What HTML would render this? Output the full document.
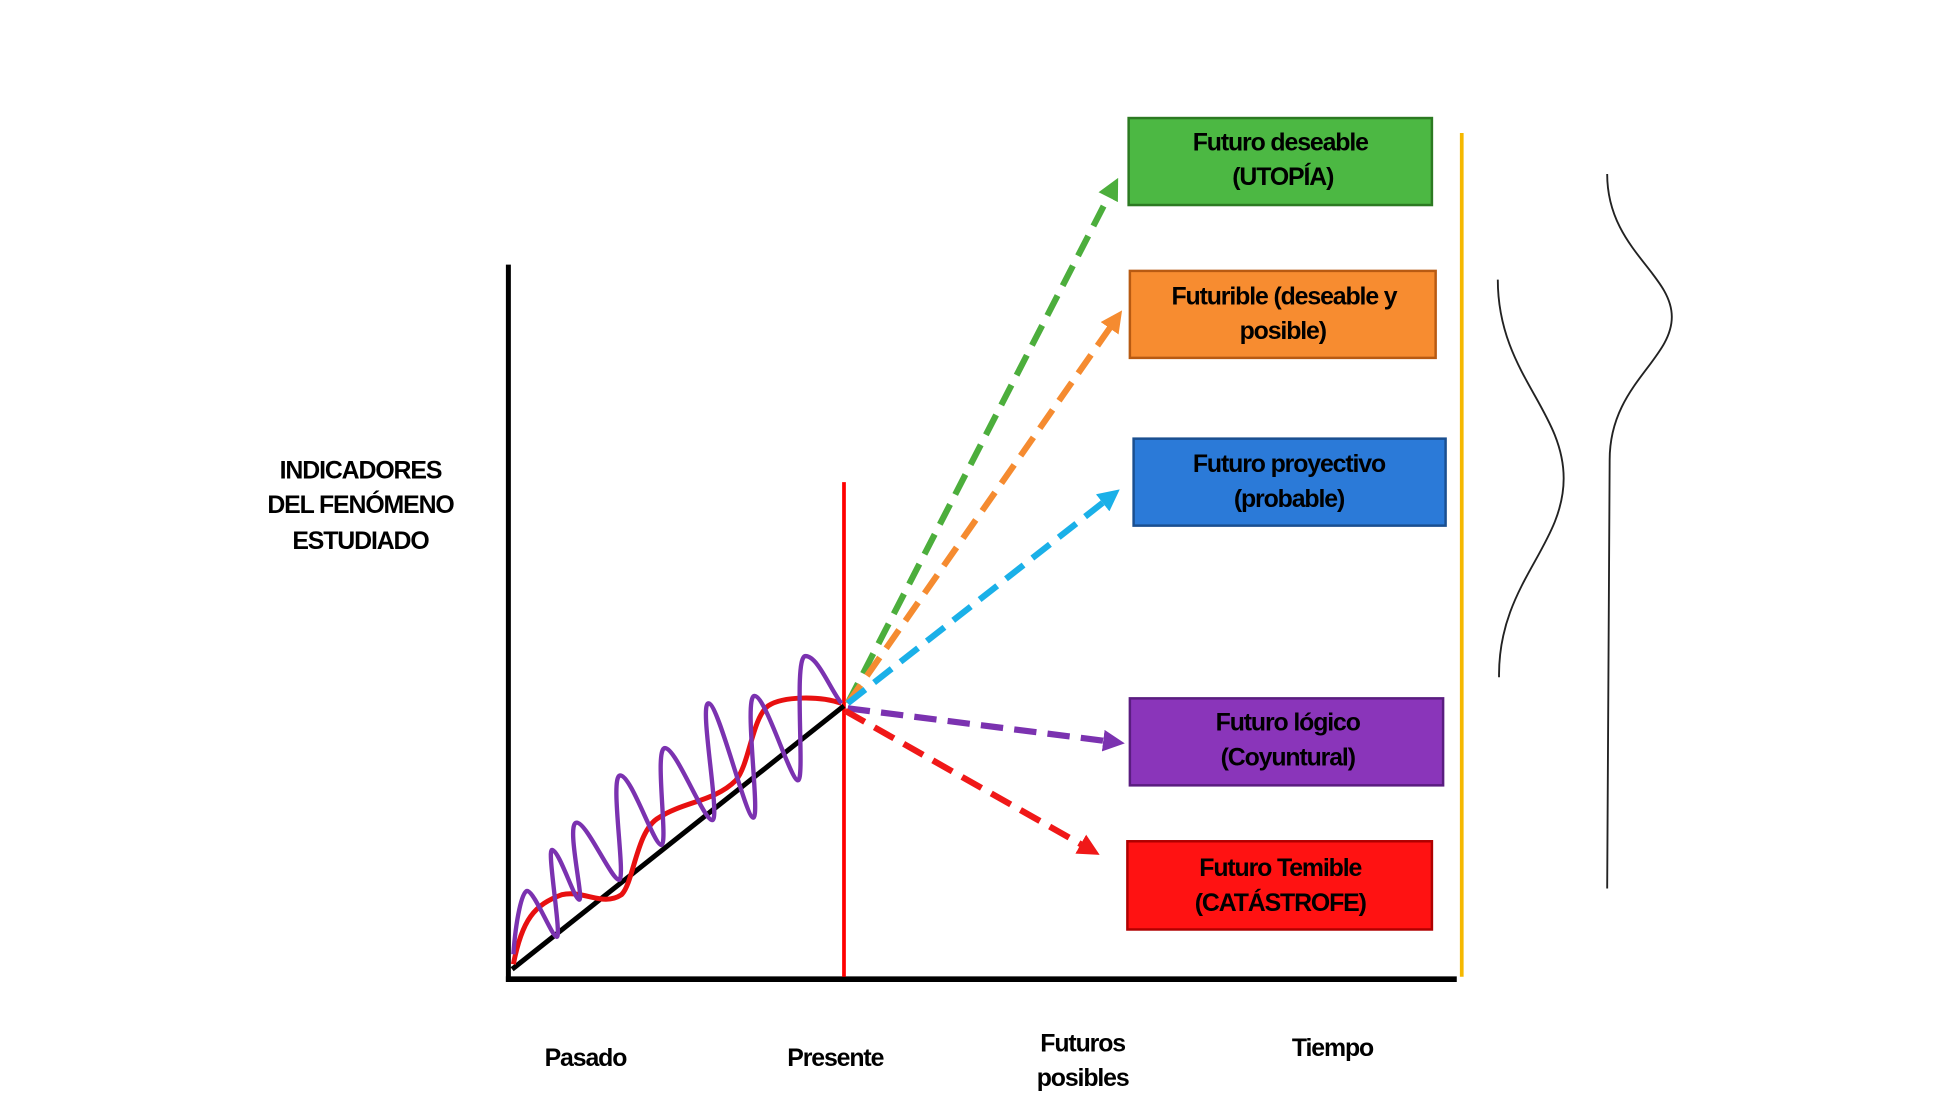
<!DOCTYPE html>
<html><head><meta charset="utf-8"><style>
html,body{margin:0;padding:0;background:#fff;}
svg{display:block}
text{font-family:"Liberation Sans Narrow","Liberation Sans",sans-serif;font-weight:bold;fill:#000;font-size:20px;letter-spacing:-0.9px;text-anchor:middle}
</style></head><body>
<svg width="1949" height="1096" viewBox="0 0 1568 882" preserveAspectRatio="none" xmlns="http://www.w3.org/2000/svg">
<defs>
<marker id="ag" markerWidth="3.5" markerHeight="3.5" refX="1.5" refY="1.75" orient="auto" markerUnits="strokeWidth"><path d="M0,0 L3.5,1.75 L0,3.5 z" fill="#4cae3c"/></marker>
<marker id="ao" markerWidth="3.5" markerHeight="3.5" refX="1.5" refY="1.75" orient="auto" markerUnits="strokeWidth"><path d="M0,0 L3.5,1.75 L0,3.5 z" fill="#f58b30"/></marker>
<marker id="ac" markerWidth="3.5" markerHeight="3.5" refX="1.5" refY="1.75" orient="auto" markerUnits="strokeWidth"><path d="M0,0 L3.5,1.75 L0,3.5 z" fill="#1ab0e8"/></marker>
<marker id="ap" markerWidth="3.5" markerHeight="3.5" refX="1.5" refY="1.75" orient="auto" markerUnits="strokeWidth"><path d="M0,0 L3.5,1.75 L0,3.5 z" fill="#7b32b0"/></marker>
<marker id="ar" markerWidth="3.5" markerHeight="3.5" refX="1.5" refY="1.75" orient="auto" markerUnits="strokeWidth"><path d="M0,0 L3.5,1.75 L0,3.5 z" fill="#f01818"/></marker>
</defs>
<line x1="409" y1="213" x2="409" y2="790" stroke="#000" stroke-width="4"/>
<line x1="407" y1="788" x2="1172" y2="788" stroke="#000" stroke-width="4.5"/>
<line x1="679" y1="388" x2="679" y2="786" stroke="#f00" stroke-width="3"/>
<line x1="1176" y1="107" x2="1176" y2="786" stroke="#f5b800" stroke-width="3"/>
<line x1="412" y1="780" x2="679" y2="568" stroke="#000" stroke-width="4"/>
<path d="M413,776 C420,740 430,728 452,720 C470,716 485,730 500,720 C510,710 512,668 530,658 C550,645 575,645 592,628 C603,615 605,578 618,568 C630,560 660,560 677,566" fill="none" stroke="#e81010" stroke-width="4"/>
<path d="M413,768 C415,740 420,717 424,717 C430,717 444,754 448,754 C452,754 440,684 444,684 C450,684 462,724 466,724 C470,724 455,662 464,662 C472,662 492,708 498,708 C504,708 490,624 499,624 C508,624 526,680 532,680 C538,680 526,602 535,602 C544,602 566,660 573,660 C580,660 562,566 570,566 C578,566 600,658 606,658 C612,658 598,560 607,560 C616,560 636,628 642,628 C648,628 638,528 648,528 C658,528 668,555 677,566" fill="none" stroke="#7b32b0" stroke-width="3.5"/>
<g stroke-width="5" stroke-dasharray="18,9" fill="none">
<line x1="682" y1="566" x2="895" y2="152" stroke="#4cae3c" marker-end="url(#ag)"/>
<line x1="682" y1="566" x2="897" y2="258" stroke="#f58b30" marker-end="url(#ao)"/>
<line x1="682" y1="566" x2="893" y2="400" stroke="#1ab0e8" marker-end="url(#ac)"/>
<line x1="682" y1="570" x2="895" y2="597" stroke="#7b32b0" marker-end="url(#ap)"/>
<line x1="680" y1="572" x2="876" y2="683" stroke="#f01818" marker-end="url(#ar)"/>
</g>
<g stroke-width="2">
<rect x="908" y="95" width="244" height="70" fill="#4cb843" stroke="#2c7a22"/>
<rect x="909" y="218" width="246" height="70" fill="#f78c30" stroke="#b85a12"/>
<rect x="912" y="353" width="251" height="70" fill="#2b7ad8" stroke="#1a4f90"/>
<rect x="909" y="562" width="252" height="70" fill="#8a35ba" stroke="#5a1d80"/>
<rect x="907" y="677" width="245" height="71" fill="#ff1212" stroke="#b00000"/>
</g>
<text x="1030" y="121">Futuro deseable</text><text x="1032" y="149">(UTOPÍA)</text>
<text x="1033" y="245">Futurible (deseable y</text><text x="1032" y="273">posible)</text>
<text x="1037" y="380">Futuro proyectivo</text><text x="1037" y="408">(probable)</text>
<text x="1036" y="588">Futuro lógico</text><text x="1036" y="616">(Coyuntural)</text>
<text x="1030" y="705">Futuro Temible</text><text x="1030" y="733">(CATÁSTROFE)</text>
<text x="290" y="385">INDICADORES</text><text x="290" y="413">DEL FENÓMENO</text><text x="290" y="442">ESTUDIADO</text>
<text x="471" y="858">Pasado</text>
<text x="672" y="858">Presente</text>
<text x="871" y="846">Futuros</text><text x="871" y="874">posibles</text>
<text x="1072" y="850">Tiempo</text>
<path d="M1205,225 C1205,300 1258,330 1258,385 C1258,440 1205,470 1206,545" fill="none" stroke="#222" stroke-width="1.5"/>
<path d="M1293,140 C1293,200 1345,220 1345,255 C1345,290 1295,310 1295,370 L1293,715" fill="none" stroke="#222" stroke-width="1.5"/>
</svg>
</body></html>
